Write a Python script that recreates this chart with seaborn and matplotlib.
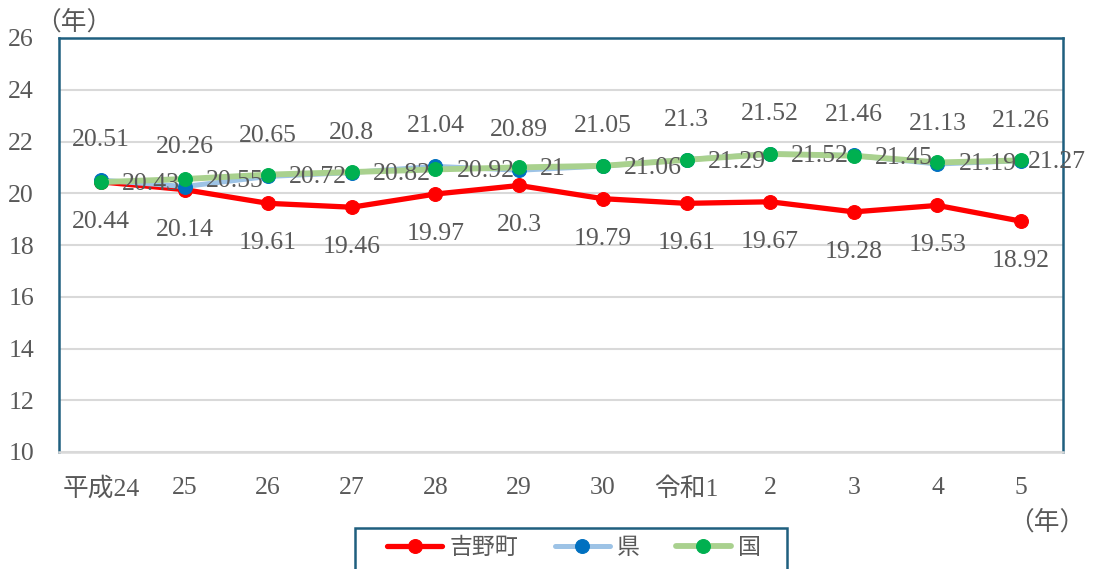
import matplotlib
matplotlib.use("Agg")
import matplotlib.pyplot as plt
from matplotlib.patches import Rectangle
import seaborn as sns
import pandas as pd

years = ["平成24", "25", "26", "27", "28", "29", "30", "令和1", "2", "3", "4", "5"]
yoshino = [20.44, 20.14, 19.61, 19.46, 19.97, 20.3, 19.79, 19.61, 19.67, 19.28, 19.53, 18.92]
ken = [20.51, 20.26, 20.65, 20.8, 21.04, 20.89, 21.05, 21.3, 21.52, 21.46, 21.13, 21.26]
kuni = [20.43, 20.55, 20.72, 20.82, 20.92, 21, 21.06, 21.29, 21.52, 21.45, 21.19, 21.27]
series_names = ["吉野町", "県", "国"]

sns.set_theme(style="white")
FAM = ["Liberation Serif", "Noto Sans CJK JP", "DejaVu Sans"]
plt.rcParams["font.family"] = FAM
TXT = "#595959"
FS = 18.5
FRAME = "#1F5F7F"

rows = []
for name, vals in zip(series_names, [yoshino, ken, kuni]):
    for i, v in enumerate(vals):
        rows.append({"x": i, "value": v, "series": name})
df = pd.DataFrame(rows)

W, H = 1094, 569
fig = plt.figure(figsize=(W / 100, H / 100), dpi=100)
ax = fig.add_axes([59 / W, 1 - 452 / H, (1063 - 59) / W, (452 - 38) / H])

line_colors = {"吉野町": "#FF0000", "県": "#9DC3E6", "国": "#A9D18E"}
marker_colors = {"吉野町": "#FF0000", "県": "#0070C0", "国": "#00B050"}
widths = {"吉野町": 3.8, "県": 3.6, "国": 4.2}

for name in series_names:
    sub = df[df["series"] == name]
    sns.lineplot(data=sub, x="x", y="value", ax=ax, color=line_colors[name],
                 linewidth=widths[name], marker="o", markersize=10,
                 markerfacecolor=marker_colors[name], markeredgecolor=marker_colors[name],
                 label=name, legend=False, zorder=3)

ax.set_xlim(-0.5, 11.5)
ax.set_ylim(10, 26)
ax.set_yticks(range(10, 27, 2))
ax.set_xticks(range(len(years)))
ax.set_xticklabels(years)
ax.set_xlabel("")
ax.set_ylabel("")
ax.grid(axis="y", color="#D9D9D9", linewidth=1.5)
ax.set_axisbelow(True)
ax.tick_params(axis="both", length=0, labelsize=FS, colors=TXT)
ax.tick_params(axis="x", pad=18)
ax.tick_params(axis="y", pad=18)
for s in ["left", "right", "top"]:
    ax.spines[s].set_color(FRAME)
    ax.spines[s].set_linewidth(1.8)
ax.spines["bottom"].set_color("#D9D9D9")
ax.spines["bottom"].set_linewidth(1.8)

def fmt(v):
    return "%g" % v

for i, v in enumerate(yoshino):
    ax.annotate(fmt(v), (i, v), xytext=(0, -40), textcoords="offset pixels",
                ha="center", va="center", fontsize=FS, color=TXT)
for i, v in enumerate(ken):
    ax.annotate(fmt(v), (i, v), xytext=(0, 40), textcoords="offset pixels",
                ha="center", va="center", fontsize=FS, color=TXT)
for i, v in enumerate(kuni):
    dx = 21 if i < len(kuni) - 1 else 7
    ax.annotate(fmt(v), (i, v), xytext=(dx, -2), textcoords="offset pixels",
                ha="left", va="center", fontsize=FS, color=TXT)

fig.text(35 / W, 1 - 22 / H, "（年）", fontsize=FS, color=TXT, ha="left", va="center")
fig.text(1047 / W, 1 - 522 / H, "（年）", fontsize=FS, color=TXT, ha="center", va="center")

# legend frame box (extends past bottom edge like the reference)
fig.patches.append(Rectangle((355 / W, -10 / H), (787 - 355) / W, (569 - 528 + 10) / H,
                             transform=fig.transFigure, fill=False, edgecolor=FRAME,
                             linewidth=1.8, zorder=1))

handles, labels = ax.get_legend_handles_labels()
leg = fig.legend(handles, labels, loc="center", bbox_to_anchor=(574 / W, 1 - 548 / H),
                 ncol=3, frameon=False, fontsize=16.5, handlelength=2.4, handletextpad=0.3,
                 columnspacing=1.6, borderpad=0.0, borderaxespad=0)
for t in leg.get_texts():
    t.set_color(TXT)

fig.savefig("out.png", dpi=100)
